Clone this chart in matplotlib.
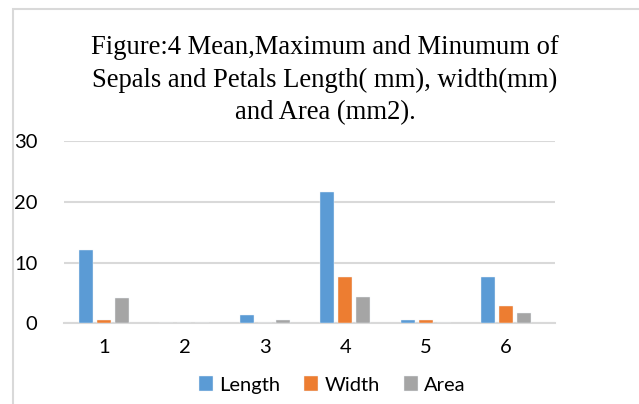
import numpy as np
import matplotlib
matplotlib.use("Agg")
from matplotlib import pyplot as plt
from matplotlib.patches import Rectangle

# data
categories = ["1", "2", "3", "4", "5", "6"]
length = [12.1, 0, 1.4, 21.6, 0.55, 7.7]
width = [0.6, 0, 0, 7.6, 0.55, 2.85]
area = [4.2, 0, 0.5, 4.3, 0, 1.65]
series_names = ["Length", "Width", "Area"]
colors = ["#5b9bd5", "#ed7d31", "#a5a5a5"]

W, H = 639, 404
fig = plt.figure(figsize=(W / 100, H / 100), dpi=100)

# chart border (only left and top edges fall inside the image)
fig.patches.append(Rectangle((13 / W, -0.1), 1.2, 1 - 9 / H + 0.1,
                             transform=fig.transFigure, fill=False,
                             edgecolor="#d9d9d9", linewidth=1.5))

ax = fig.add_axes([63.8 / W, 1 - 323.3 / H, (555 - 63.8) / W, (323.3 - 141) / H])

x = np.arange(1, len(categories) + 1)
bw = 0.174
step = 0.224
for i, (vals, name, c) in enumerate(zip([length, width, area], series_names, colors)):
    ax.bar(x + (i - 1) * step, vals, bw, color=c, label=name,
           edgecolor="#eef4fa", linewidth=0.3, zorder=3)

ax.set_xlim(0.5, 6.61)
ax.set_ylim(0, 30)
ax.set_yticks([0, 10, 20, 30])
ax.set_xticks(x)
ax.set_xticklabels(categories)
ax.yaxis.grid(True, color="#d9d9d9", linewidth=1.5, zorder=0)
ax.set_axisbelow(True)
for s in ["top", "right", "left"]:
    ax.spines[s].set_visible(False)
ax.spines["bottom"].set_color("#d9d9d9")
ax.spines["bottom"].set_linewidth(1.5)
ax.tick_params(length=0, labelsize=14.5, colors="black")
ax.tick_params(axis="y", pad=19)
ax.tick_params(axis="x", pad=11)
for lbl in ax.get_xticklabels() + ax.get_yticklabels():
    lbl.set_fontfamily("Lato")

fig.text(325 / W, 1 - 80 / H,
         "Figure:4 Mean,Maximum and Minumum of\n"
         "Sepals and Petals Length( mm), width(mm)\n"
         "and Area (mm2).",
         ha="center", va="center", fontsize=19.2, family="Liberation Serif",
         linespacing=1.38)

fig.legend(loc="center", bbox_to_anchor=(332 / W, 1 - 385 / H), ncol=3,
           frameon=False, prop={"family": "Lato", "size": 14.5},
           handlelength=0.7, handleheight=0.7, handletextpad=0.3,
           columnspacing=1.2)

fig.savefig("out.png", dpi=100)
